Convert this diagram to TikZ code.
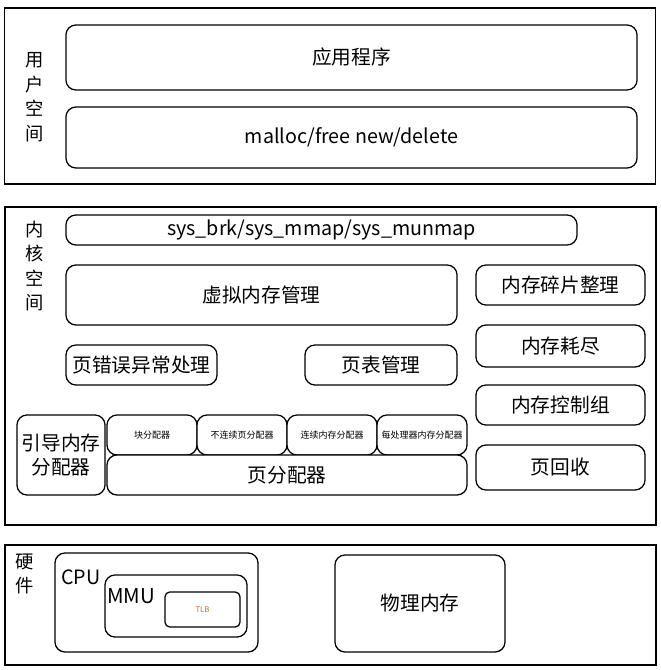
\documentclass[tikz,border=0pt]{standalone}
\usepackage{fontspec}
\setmainfont{Noto Sans CJK SC}
\usetikzlibrary{shapes}
\definecolor{tlb_orange}{RGB}{200, 110, 40}
\tikzstyle{area}=[rectangle,draw=black,line width=0.9pt,
  minimum width=16.27cm]
\tikzstyle{blk}=[rectangle,rounded corners=0.25cm,draw=black,fill=white,
  line width=0.9pt,inner sep=2pt,font=\fontsize{14}{17}\selectfont]
\tikzstyle{sblk}=[blk,minimum width=2.25cm,minimum height=1cm,
  font=\fontsize{6.4}{8}\selectfont]
\tikzstyle{side}=[blk,minimum width=4.225cm]
\tikzstyle{lbl}=[align=center,font=\fontsize{13}{17.5}\selectfont]

\begin{document}
\begin{tikzpicture}[x=0.025cm,y=-0.025cm]
    \useasboundingbox (0,0) rectangle (661,670);
    % user space
    \node [style=area,minimum height=4.4cm] (user) at (330,96) {};
    \node [style=lbl] (userlbl) at (35,97) {用\\户\\空\\间};
    \node [style=blk,minimum width=14.275cm,minimum height=1.625cm] (app) at (351.5,57.5) {应用程序};
    \node [style=blk,minimum width=14.275cm,minimum height=1.525cm] (libc) at (351.5,137.5) {malloc/free new/delete};
    % kernel space
    \node [style=area,minimum height=7.95cm] (kernel) at (330.5,366) {};
    \node [style=lbl] (kernellbl) at (35,266) {内\\核\\空\\间};
    \node [style=blk,minimum width=12.775cm,minimum height=0.75cm] (sys) at (321.5,230) {sys\_brk/sys\_mmap/sys\_munmap};
    \node [style=blk,minimum width=9.775cm,minimum height=1.5cm] (vm) at (261.5,295) {虚拟内存管理};
    \node [style=side,minimum height=1cm] (frag) at (560.5,285) {内存碎片整理};
    \node [style=side,minimum height=1.05cm] (oom) at (560.5,346) {内存耗尽};
    \node [style=side,minimum height=1cm] (memcg) at (560.5,405) {内存控制组};
    \node [style=side,minimum height=1.125cm] (reclaim) at (560.5,467.5) {页回收};
    \node [style=blk,minimum width=3.775cm,minimum height=1cm] (fault) at (141.5,365) {页错误异常处理};
    \node [style=blk,minimum width=3.8cm,minimum height=1cm] (ptable) at (381,365) {页表管理};
    \node [style=blk,minimum width=2.2cm,minimum height=2cm,align=center] (boot) at (61,455) {引导内存\\分配器};
    \node [style=sblk] (slab) at (152,435) {块分配器};
    \node [style=sblk] (vmalloc) at (242,435) {不连续页分配器};
    \node [style=sblk] (cma) at (332,435) {连续内存分配器};
    \node [style=sblk] (percpu) at (422,435) {每处理器内存分配器};
    \node [style=blk,minimum width=9cm,minimum height=1cm] (buddy) at (287,475) {页分配器};
    % hardware
    \node [style=area,minimum height=3cm] (hw) at (330.5,605) {};
    \node [style=lbl] (hwlbl) at (25,574) {硬\\件};
    \node [style=blk,minimum width=5.075cm,minimum height=2.475cm] (cpu) at (156.5,602.5) {};
    \node [font=\fontsize{14}{16}\selectfont] (cpulbl) at (81,577) {CPU};
    \node [style=blk,minimum width=3.55cm,minimum height=1.55cm] (mmu) at (176,606) {};
    \node [font=\fontsize{14.5}{16}\selectfont] (mmulbl) at (131,596) {MMU};
    \node [style=blk,rounded corners=0.12cm,minimum width=1.875cm,minimum height=0.875cm,
      text=tlb_orange,font=\fontsize{5.5}{7}\selectfont] (tlb) at (202.5,609.5) {TLB};
    \node [style=blk,minimum width=4.25cm,minimum height=2.425cm] (ram) at (420,603.5) {物理内存};
  \end{tikzpicture}
\end{document}
